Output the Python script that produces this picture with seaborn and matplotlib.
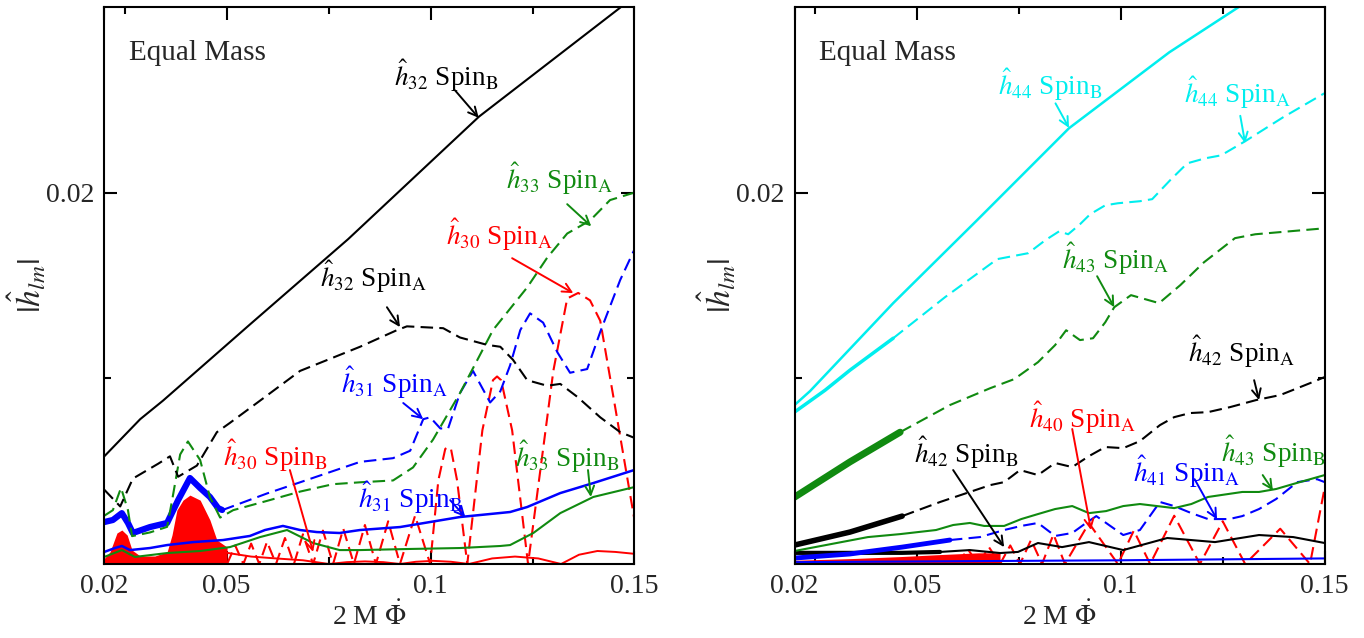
import matplotlib
matplotlib.use("Agg")
import matplotlib.pyplot as plt
import seaborn as sns

# ---------------- data ----------------
# Left panel (l = 3)
h32B_x = [0.0200, 0.0288, 0.0344, 0.0557, 0.0798, 0.1119, 0.1467, 0.1500]
h32B_y = [0.0058, 0.0078, 0.0088, 0.0129, 0.0175, 0.0241, 0.0300, 0.0310]

h32A_x = [0.0200, 0.0239, 0.0270, 0.0332, 0.0361, 0.0381, 0.0427, 0.0476, 0.0508, 0.0582,
          0.0680, 0.0827, 0.0918, 0.0942, 0.1031, 0.1072, 0.1139, 0.1171, 0.1202, 0.1237,
          0.1286, 0.1318, 0.1360, 0.1416, 0.1465, 0.1499]
h32A_y = [0.0040, 0.0031, 0.0046, 0.0054, 0.0058, 0.0047, 0.0053, 0.0071, 0.0076, 0.0088,
          0.0104, 0.0117, 0.0126, 0.0128, 0.0127, 0.0122, 0.0118, 0.0117, 0.0110, 0.0099,
          0.0096, 0.0097, 0.0090, 0.0079, 0.0071, 0.0068]

h33A_x = [0.0200, 0.0221, 0.0241, 0.0258, 0.0268, 0.0312, 0.0354, 0.0366, 0.0386, 0.0405,
          0.0435, 0.0459, 0.0484, 0.0516, 0.0599, 0.0680, 0.0761, 0.0827, 0.0908, 0.0957,
          0.1006, 0.1072, 0.1153, 0.1237, 0.1286, 0.1335, 0.1391, 0.1440, 0.1499]
h33A_y = [0.0026, 0.0029, 0.0041, 0.0029, 0.0015, 0.0017, 0.0020, 0.0034, 0.0059, 0.0066,
          0.0056, 0.0036, 0.0025, 0.0029, 0.0034, 0.0039, 0.0043, 0.0044, 0.0045, 0.0052,
          0.0067, 0.0092, 0.0126, 0.0149, 0.0165, 0.0178, 0.0185, 0.0196, 0.0200]

h31A_dense_x = [0.0200, 0.0221, 0.0243, 0.0258, 0.0270, 0.0312, 0.0354, 0.0381, 0.0410,
                0.0435, 0.0459, 0.0479, 0.0489]
h31A_dense_y = [0.00226, 0.00237, 0.00274, 0.00221, 0.00167, 0.00199, 0.00221, 0.00344,
                0.00463, 0.00409, 0.00361, 0.00301, 0.00291]
h31A_x = [0.0489, 0.0599, 0.0680, 0.0827, 0.0908, 0.0950, 0.0982, 0.0999, 0.1024, 0.1043,
          0.1072, 0.1104, 0.1146, 0.1171, 0.1195, 0.1220, 0.1244, 0.1276, 0.1311, 0.1342,
          0.1384, 0.1416, 0.1465, 0.1499]
h31A_y = [0.0029, 0.0038, 0.0044, 0.0055, 0.0057, 0.0061, 0.0078, 0.0079, 0.0073, 0.0073,
          0.0092, 0.0104, 0.0087, 0.0093, 0.0107, 0.0126, 0.0135, 0.0130, 0.0114, 0.0103,
          0.0105, 0.0125, 0.0153, 0.0169]

h31B_x = [0.0200, 0.0226, 0.0243, 0.0263, 0.0312, 0.0354, 0.0418, 0.0491, 0.0557, 0.0594,
          0.0638, 0.0680, 0.0721, 0.0777, 0.0827, 0.0925, 0.1072, 0.1195, 0.1237, 0.1318,
          0.1399, 0.1499]
h31B_y = [0.00065, 0.00086, 0.00097, 0.00075, 0.00086, 0.00102, 0.00118, 0.00129, 0.00151,
          0.00183, 0.00205, 0.00183, 0.00172, 0.00167, 0.00183, 0.00199, 0.00253, 0.00280,
          0.00307, 0.00382, 0.00436, 0.00506]

h33B_x = [0.0200, 0.0243, 0.0275, 0.0354, 0.0435, 0.0508, 0.0582, 0.0648, 0.0712, 0.0777,
          0.0827, 0.0950, 0.1072, 0.1171, 0.1195, 0.1252, 0.1318, 0.1399, 0.1499]
h33B_y = [0.00038, 0.00075, 0.00038, 0.00059, 0.00070, 0.00091, 0.00145, 0.00183, 0.00113,
          0.00075, 0.00075, 0.00081, 0.00086, 0.00097, 0.00102, 0.00167, 0.00274, 0.00361,
          0.00414]

h30_dense_x = [0.0200, 0.0214, 0.0231, 0.0243, 0.0256, 0.0268, 0.0288, 0.0324, 0.0354,
               0.0366, 0.0378, 0.0393, 0.0410, 0.0435, 0.0459, 0.0476, 0.0501]
h30_dense_y = [0.00030, 0.00065, 0.00167, 0.00183, 0.00156, 0.00075, 0.00043, 0.00043,
               0.00065, 0.00156, 0.00290, 0.00344, 0.00371, 0.00344, 0.00237, 0.00129, 0.00091]

h30A_x = [0.0501, 0.0521, 0.0541, 0.0560, 0.0580, 0.0599, 0.0621, 0.0643, 0.0665, 0.0687,
          0.0712, 0.0736, 0.0761, 0.0786, 0.0812, 0.0839, 0.0866, 0.0896, 0.0925, 0.0962,
          0.0999, 0.1019, 0.1036, 0.1043, 0.1050, 0.1065, 0.1090, 0.1127, 0.1153, 0.1163,
          0.1173, 0.1200, 0.1239, 0.1301, 0.1335, 0.1362, 0.1391, 0.1416, 0.1453, 0.1499]
h30A_y = [0.0, 0.0010, 0.0, 0.0011, 0.0, 0.0012, 0.0, 0.0014, 0.0, 0.0016,
          0.0, 0.0018, 0.0, 0.0019, 0.0, 0.0021, 0.0, 0.0023, 0.0, 0.0026,
          0.0, 0.0045, 0.0062, 0.0063, 0.0062, 0.0045, 0.0, 0.0072, 0.0099, 0.0101,
          0.0099, 0.0072, 0.0, 0.0104, 0.0143, 0.0146, 0.0142, 0.0131, 0.0084, 0.0025]

h30B_x = [0.0501, 0.0560, 0.0621, 0.0687, 0.0751, 0.0795, 0.0839, 0.0884, 0.0925, 0.0964,
          0.1006, 0.1050, 0.1094, 0.1151, 0.1207, 0.1264, 0.1320, 0.1364, 0.1409, 0.1453,
          0.1499]
h30B_y = [0.0006, 0.0004, 0.0003, 0.0002, 0.0, 0.0001, 0.00014, 0.0001, 0.0, 0.00012,
          0.00017, 0.00012, 0.0, 0.0003, 0.0004, 0.0003, 0.0, 0.0005, 0.0007, 0.00065,
          0.00055]

# Right panel (l = 4)
h44B_x = [0.0200, 0.0238, 0.0442, 0.0645, 0.0873, 0.1119, 0.1288, 0.1416]
h44B_y = [0.00856, 0.00931, 0.01405, 0.01846, 0.02347, 0.02756, 0.02998, 0.0317]

h44A_x = [0.0200, 0.0275, 0.0336, 0.0442, 0.0569, 0.0697, 0.0773, 0.0815, 0.0849, 0.0871,
          0.0900, 0.0925, 0.0962, 0.0993, 0.1047, 0.1077, 0.1121, 0.1163, 0.1207, 0.1246,
          0.1305, 0.1398, 0.1499]
h44A_y = [0.00818, 0.00936, 0.01044, 0.01216, 0.01437, 0.01642, 0.01674, 0.01744, 0.01792,
          0.01776, 0.01830, 0.01884, 0.01932, 0.01943, 0.01954, 0.01965, 0.02067, 0.02158,
          0.02185, 0.02201, 0.02277, 0.02406, 0.02535]

h43A_x = [0.0200, 0.0336, 0.0459, 0.0581, 0.0680, 0.0739, 0.0797, 0.0839, 0.0866, 0.0900,
          0.0932, 0.0962, 0.0984, 0.1025, 0.1094, 0.1146, 0.1204, 0.1280, 0.1330, 0.1499]
h43A_y = [0.0036, 0.0055, 0.0071, 0.00856, 0.00947, 0.00996, 0.01087, 0.01179, 0.01259,
          0.01206, 0.01216, 0.01302, 0.01383, 0.01448, 0.01405, 0.01502, 0.01625, 0.01755,
          0.01776, 0.01808]

h42A_x = [0.0200, 0.0336, 0.0464, 0.0557, 0.0630, 0.0680, 0.0714, 0.0753, 0.0797, 0.0839,
          0.0881, 0.0922, 0.0962, 0.1006, 0.1047, 0.1096, 0.1131, 0.1170, 0.1214, 0.1268,
          0.1332, 0.1391, 0.1464, 0.1499]
h42A_y = [0.00102, 0.00172, 0.00258, 0.00334, 0.00388, 0.00425, 0.00441, 0.00506, 0.00479,
          0.00544, 0.00522, 0.00581, 0.00630, 0.00624, 0.00662, 0.00748, 0.00791, 0.00813,
          0.00818, 0.00845, 0.00883, 0.00910, 0.00974, 0.01006]

h41A_x = [0.0200, 0.0336, 0.0464, 0.0581, 0.0655, 0.0714, 0.0756, 0.0797, 0.0839, 0.0881,
          0.0915, 0.0940, 0.0964, 0.1006, 0.1047, 0.1096, 0.1131, 0.1173, 0.1214, 0.1266,
          0.1298, 0.1339, 0.1381, 0.1433, 0.1481, 0.1500]
h41A_y = [0.00032, 0.00054, 0.00091, 0.00129, 0.00145, 0.00183, 0.00205, 0.00221, 0.00151,
          0.00167, 0.00221, 0.00258, 0.00221, 0.00156, 0.00183, 0.00334, 0.00312, 0.00274,
          0.00242, 0.00242, 0.00258, 0.00296, 0.00350, 0.00441, 0.00457, 0.00441]

h43B_x = [0.0200, 0.0380, 0.0459, 0.0547, 0.0589, 0.0630, 0.0665, 0.0714, 0.0756, 0.0797,
          0.0839, 0.0881, 0.0922, 0.0964, 0.1006, 0.1047, 0.1089, 0.1131, 0.1173, 0.1214,
          0.1298, 0.1339, 0.1381, 0.1423, 0.1500]
h43B_y = [0.00070, 0.00145, 0.00161, 0.00183, 0.00210, 0.00221, 0.00205, 0.00205, 0.00242,
          0.00269, 0.00296, 0.00312, 0.00274, 0.00285, 0.00312, 0.00323, 0.00312, 0.00301,
          0.00323, 0.00361, 0.00388, 0.00388, 0.00404, 0.00431, 0.00479]

h42B_x = [0.0200, 0.0336, 0.0464, 0.0557, 0.0630, 0.0704, 0.0748, 0.0797, 0.0856, 0.0922,
          0.1006, 0.1114, 0.1231, 0.1339, 0.1423, 0.1500]
h42B_y = [0.00060, 0.00060, 0.00060, 0.00065, 0.00075, 0.00059, 0.00065, 0.00113, 0.00091,
          0.00118, 0.00075, 0.00140, 0.00118, 0.00156, 0.00145, 0.00113]

h40_dense_x = [0.0200, 0.0350, 0.0460, 0.0550, 0.0650, 0.0704]
h40_dense_y = [0.0002, 0.0003, 0.0004, 0.0005, 0.0006, 0.0006]

h40A_x = [0.0600, 0.0625, 0.0650, 0.0677, 0.0704, 0.0729, 0.0753, 0.0780, 0.0807, 0.0835,
          0.0863, 0.0922, 0.0993, 0.1032, 0.1072, 0.1131, 0.1194, 0.1250, 0.1305, 0.1391,
          0.1464, 0.1499]
h40A_y = [0.0, 0.0008, 0.0, 0.0009, 0.0, 0.0010, 0.0, 0.0013, 0.0, 0.0016,
          0.0, 0.0022, 0.0, 0.0018, 0.0, 0.0026, 0.0, 0.0023, 0.0, 0.0019,
          0.0, 0.0040]

h41B_x = [0.0200, 0.0600, 0.1000, 0.1500]
h41B_y = [0.00010, 0.00015, 0.00020, 0.00030]

# ---------------- style ----------------
sns.set_theme(style="ticks")
plt.rcParams["font.family"] = ["Liberation Serif", "DejaVu Serif"]
plt.rcParams["mathtext.fontset"] = "stix"
plt.rcParams["axes.edgecolor"] = "black"

BLACK, GREEN, BLUE, RED, CYAN = "#000000", "#108a10", "#0000ff", "#ff0000", "#00eeee"
DASH = (0, (6, 3))

fig = plt.figure(figsize=(13.64, 6.38), dpi=100)
axL = fig.add_axes([0.07647, 0.11599, 0.3887, 0.87304])
axR = fig.add_axes([0.58248, 0.11599, 0.3887, 0.87304])


def line(ax, x, y, color, ls="-", lw=1.5):
    sns.lineplot(x=x, y=y, ax=ax, color=color, linestyle=ls, linewidth=lw,
                 estimator=None, sort=False, legend=False)


def dense(ax, x, y, color):
    ax.fill_between(x, 0, y, color=color, linewidth=0)


def label(ax, pos, tail, tip, text, color):
    ax.text(pos[0], pos[1], text, color=color, fontsize=19.5, ha="left", va="baseline")
    ax.annotate("", xy=tip, xytext=tail,
                arrowprops=dict(arrowstyle="->", color=color, lw=1.4,
                                shrinkA=0, shrinkB=0, mutation_scale=16))


# ---------------- left panel ----------------
dense(axL, h30_dense_x, h30_dense_y, RED)
line(axL, h30B_x, h30B_y, RED, "-", 1.4)
line(axL, h30A_x, h30A_y, RED, DASH, 1.5)
line(axL, h33B_x, h33B_y, GREEN, "-", 1.5)
line(axL, h31B_x, h31B_y, BLUE, "-", 1.8)
line(axL, h31A_dense_x, h31A_dense_y, BLUE, "-", 4.5)
line(axL, h31A_x, h31A_y, BLUE, DASH, 1.5)
line(axL, h33A_x, h33A_y, GREEN, DASH, 1.5)
line(axL, h32A_x, h32A_y, BLACK, DASH, 1.5)
line(axL, h32B_x, h32B_y, BLACK, "-", 1.5)

label(axL, (0.0910, 0.02573), (0.1060, 0.02551), (0.1118, 0.02403),
      r"$\hat{h}_{32}$ Spin$_{\rm B}$", BLACK)
label(axL, (0.1186, 0.02018), (0.1335, 0.01938), (0.1394, 0.01819),
      r"$\hat{h}_{33}$ Spin$_{\rm A}$", GREEN)
label(axL, (0.1037, 0.01717), (0.1200, 0.01647), (0.1350, 0.01459),
      r"$\hat{h}_{30}$ Spin$_{\rm A}$", RED)
label(axL, (0.0730, 0.01491), (0.0893, 0.01383), (0.0925, 0.01276),
      r"$\hat{h}_{32}$ Spin$_{\rm A}$", BLACK)
label(axL, (0.0780, 0.00920), (0.0933, 0.00867), (0.0982, 0.00780),
      r"$\hat{h}_{31}$ Spin$_{\rm A}$", BLUE)
label(axL, (0.0491, 0.00527), (0.0655, 0.00506), (0.0712, 0.00065),
      r"$\hat{h}_{30}$ Spin$_{\rm B}$", RED)
label(axL, (0.1206, 0.00522), (0.1386, 0.00506), (0.1393, 0.00361),
      r"$\hat{h}_{33}$ Spin$_{\rm B}$", GREEN)
label(axL, (0.0821, 0.00301), (0.1048, 0.00344), (0.1085, 0.00253),
      r"$\hat{h}_{31}$ Spin$_{\rm B}$", BLUE)

# ---------------- right panel ----------------
dense(axR, h40_dense_x, h40_dense_y, RED)
line(axR, h40A_x, h40A_y, RED, DASH, 1.5)
line(axR, h41B_x, h41B_y, BLUE, "-", 1.5)
line(axR, h42B_x[:4], h42B_y[:4], BLACK, "-", 3.0)
line(axR, h42B_x[3:], h42B_y[3:], BLACK, "-", 1.5)
line(axR, h41A_x[:4], h41A_y[:4], BLUE, "-", 3.5)
line(axR, h41A_x[3:], h41A_y[3:], BLUE, DASH, 1.5)
line(axR, h43B_x, h43B_y, GREEN, "-", 1.5)
line(axR, h42A_x[:3], h42A_y[:3], BLACK, "-", 4.0)
line(axR, h42A_x[2:], h42A_y[2:], BLACK, DASH, 1.5)
line(axR, h43A_x[:3], h43A_y[:3], GREEN, "-", 5.0)
line(axR, h43A_x[2:], h43A_y[2:], GREEN, DASH, 1.5)
line(axR, h44A_x[:4], h44A_y[:4], CYAN, "-", 2.5)
line(axR, h44A_x[3:], h44A_y[3:], CYAN, DASH, 1.5)
line(axR, h44B_x, h44B_y, CYAN, "-", 1.8)

label(axR, (0.0698, 0.02524), (0.0840, 0.02481), (0.0873, 0.02349),
      r"$\hat{h}_{44}$ Spin$_{\rm B}$", CYAN)
label(axR, (0.1156, 0.02481), (0.1293, 0.02414), (0.1305, 0.02266),
      r"$\hat{h}_{44}$ Spin$_{\rm A}$", CYAN)
label(axR, (0.0855, 0.01588), (0.0942, 0.01550), (0.0984, 0.01383),
      r"$\hat{h}_{43}$ Spin$_{\rm A}$", GREEN)
label(axR, (0.1164, 0.01087), (0.1327, 0.00990), (0.1339, 0.00883),
      r"$\hat{h}_{42}$ Spin$_{\rm A}$", BLACK)
label(axR, (0.0774, 0.00732), (0.0881, 0.00727), (0.0927, 0.00183),
      r"$\hat{h}_{40}$ Spin$_{\rm A}$", RED)
label(axR, (0.0492, 0.00544), (0.0589, 0.00506), (0.0714, 0.00091),
      r"$\hat{h}_{42}$ Spin$_{\rm B}$", BLACK)
label(axR, (0.1029, 0.00441), (0.1181, 0.00457), (0.1236, 0.00240),
      r"$\hat{h}_{41}$ Spin$_{\rm A}$", BLUE)
label(axR, (0.1246, 0.00549), (0.1348, 0.00479), (0.1373, 0.00396),
      r"$\hat{h}_{43}$ Spin$_{\rm B}$", GREEN)

# ---------------- axes cosmetics ----------------
XT_MAJOR = [0.02, 0.05, 0.1, 0.15]
XT_LABELS = ["0.02", "0.05", "0.1", "0.15"]
XT_MINOR = [0.025, 0.075, 0.125]
for ax in (axL, axR):
    ax.set_xlim(0.02, 0.15)
    ax.set_ylim(0, 0.03)
    ax.set_xticks(XT_MAJOR)
    ax.set_xticklabels(XT_LABELS)
    ax.set_xticks(XT_MINOR, minor=True)
    ax.set_yticks([0.02])
    ax.set_yticklabels(["0.02"])
    ax.set_yticks([0.01], minor=True)
    ax.tick_params(which="both", direction="in", top=True, right=True,
                   width=1.5, color="black", labelsize=20, pad=7)
    ax.tick_params(which="major", length=9.5)
    ax.tick_params(which="minor", length=5)
    for s in ax.spines.values():
        s.set_linewidth(1.5)
        s.set_color("black")
    ax.set_xlabel(r"2 M $\dot{\Phi}$", fontsize=20, labelpad=2)
    ax.set_ylabel(r"$|\hat{h}_{lm}|$", fontsize=24)
    ax.yaxis.set_label_coords(-0.105, 0.5)
    ax.text(0.047, 0.905, "Equal Mass", transform=ax.transAxes, fontsize=21,
            ha="left", va="baseline")

fig.savefig("out.png", dpi=100)
